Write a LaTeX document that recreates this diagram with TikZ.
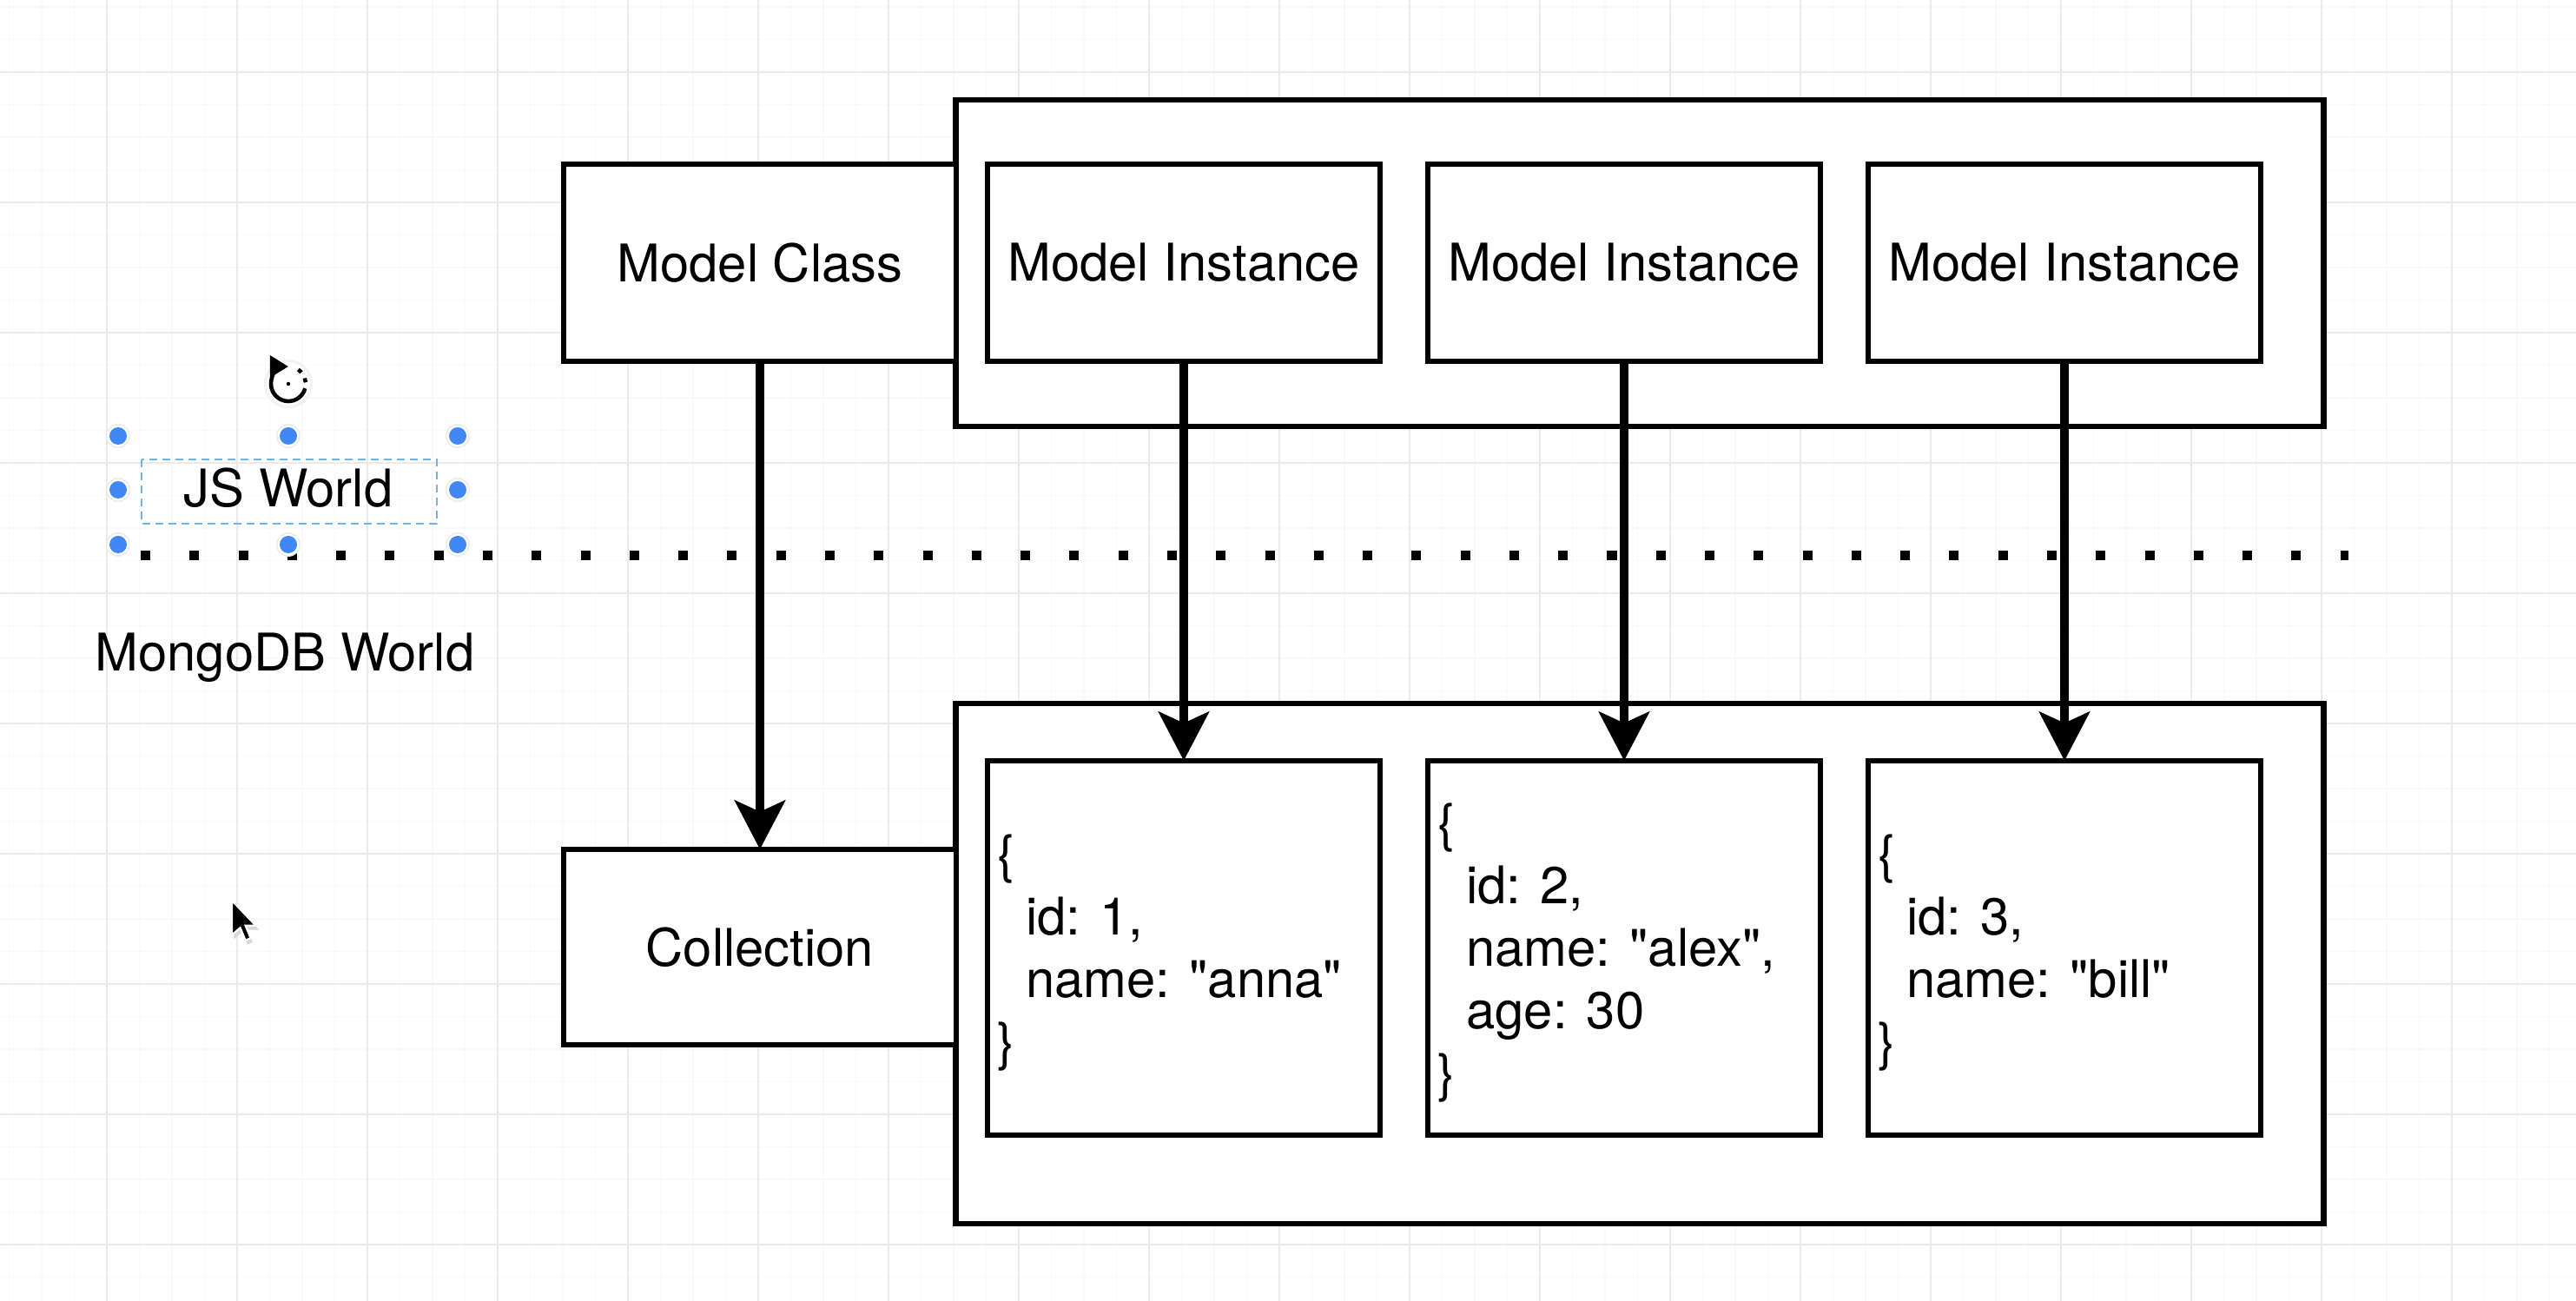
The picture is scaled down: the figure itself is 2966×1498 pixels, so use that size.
\documentclass[tikz,border=0pt]{standalone}
\usepackage{fontspec}
\newfontfamily\hv{TeX Gyre Heros}
\usetikzlibrary{arrows.meta}
\definecolor{gridmaj}{RGB}{234,234,234}
\definecolor{gridmin}{RGB}{249,249,249}
\definecolor{selblue}{RGB}{66,136,245}
\definecolor{dashblue}{RGB}{110,180,232}
\begin{document}
\begin{tikzpicture}[x=0.01cm,y=-0.01cm,
  bx/.style={draw=black, line width=1.8pt, fill=white, rectangle, inner sep=0pt, outer sep=0pt,
    minimum width=4.52cm, minimum height=2.27cm, font=\hv\fontsize{17}{20.5}\selectfont},
  contbox/.style={draw=black, line width=1.8pt, fill=white, rectangle, inner sep=0pt, outer sep=0pt,
    minimum width=15.74cm},
  doctext/.style={anchor=north west, inner sep=0pt, outer sep=0pt, align=left, font=\hv\fontsize{17}{20.5}\selectfont},
  txtlabel/.style={inner sep=0pt, outer sep=0pt, font=\hv\fontsize{17}{20.5}\selectfont},
  conn/.style={line width=2.6pt, -{Stealth[length=16pt,width=16.5pt,inset=3.7pt]}}
]
\useasboundingbox (0,0) rectangle (2966,1498);
\fill[white] (0,0) rectangle (2966,1498);
% grid
\foreach \i in {0,...,78} \draw[gridmin, line width=0.4pt] ({10.5+37.5*\i},0) -- ({10.5+37.5*\i},1498);
\foreach \j in {0,...,39} \draw[gridmin, line width=0.4pt] (0,{8+37.5*\j}) -- (2966,{8+37.5*\j});
\foreach \i in {0,...,18} \draw[gridmaj, line width=0.5pt] ({123+150*\i},0) -- ({123+150*\i},1498);
\foreach \j in {0,...,9} \draw[gridmaj, line width=0.5pt] (0,{83+150*\j}) -- (2966,{83+150*\j});

% containers
\node[contbox, minimum height=3.76cm] (jsc) at (1888,303) {};
\node[contbox, minimum height=5.99cm] (dbc) at (1888,1109.5) {};

% JS side
\node[bx] (mc) at (875,302.5) {Model Class};
\node[bx] (mi1) at (1363,302.5) {Model Instance};
\node[bx] (mi2) at (1870,302.5) {Model Instance};
\node[bx] (mi3) at (2377,302.5) {Model Instance};

% Mongo side
\node[bx, minimum height=2.25cm] (col) at (875,1090.5) {Collection};
\node[bx, minimum height=4.31cm] (d1) at (1363,1091.5) {};
\node[bx, minimum height=4.31cm] (d2) at (1870,1091.5) {};
\node[bx, minimum height=4.31cm] (d3) at (2377,1091.5) {};
\node[doctext] (t1) at (1148,961) {\{\\\hspace*{0.334cm}id: 1,\\\hspace*{0.334cm}name: "anna"\\\}};
\node[doctext] (t2) at (1655,925) {\{\\\hspace*{0.334cm}id: 2,\\\hspace*{0.334cm}name: "alex",\\\hspace*{0.334cm}age: 30\\\}};
\node[doctext] (t3) at (2162,961) {\{\\\hspace*{0.334cm}id: 3,\\\hspace*{0.334cm}name: "bill"\\\}};

% connectors
\draw[conn] (mc.south) -- (col.north);
\draw[conn] (mi1.south) -- (d1.north);
\draw[conn] (mi2.south) -- (d2.north);
\draw[conn] (mi3.south) -- (d3.north);

% dotted separator
\coordinate (dotA) at (162,640);
\coordinate (dotB) at (2704,640);
\draw[line width=0.11cm, dash pattern=on 0.11cm off 0.4525cm] (dotA) -- (dotB);

% labels
\node[txtlabel, anchor=base] (js) at (332,584) {JS World};
\node[txtlabel, anchor=base] (mongo) at (328,773) {MongoDB World};

% selection frame
\draw[dashblue, line width=0.6pt, dash pattern=on 0.09cm off 0.06cm] (163,529) rectangle (503,603);
\foreach \hx/\hy in {136/502,332/502,527/502,136/564,527/564,136/627,332/627,527/627} {
    \fill[black!8] (\hx,\hy) circle (14);
    \fill[white] (\hx,\hy) circle (12.5);
    \fill[selblue] (\hx,\hy) circle (10);
}
% rotate handle
\coordinate (rot) at (332,442);
\fill[black!5] (rot) circle (28);
\fill[white] (rot) circle (25);
\begin{scope}[shift={(rot)}, yscale=-1]
  \draw[line width=1.3pt, {Triangle[length=6pt,width=7pt]}-] (90:20) arc[start angle=90, end angle=345, radius=20];
  \draw[line width=1.3pt, dash pattern=on 1.4pt off 2.2pt] (5:20) arc[start angle=5, end angle=62, radius=20];
  \fill (0,0) circle (2.2);
\end{scope}

% mouse cursor
\coordinate (cur) at (267,1037);
\begin{scope}[shift={(cur)}, scale=1.2]
\fill[black!15] (2,3) -- ++(0,34) -- ++(8,-7) -- ++(5,12) -- ++(5,-2) -- ++(-5,-12) -- ++(11,0) -- cycle;
\filldraw[fill=black, draw=white, line width=0.6pt, line join=miter] (0,0) -- ++(0,33) -- ++(8,-7) -- ++(5,12) -- ++(5,-2) -- ++(-5,-12) -- ++(10,0) -- cycle;
\end{scope}
\end{tikzpicture}
\end{document}
